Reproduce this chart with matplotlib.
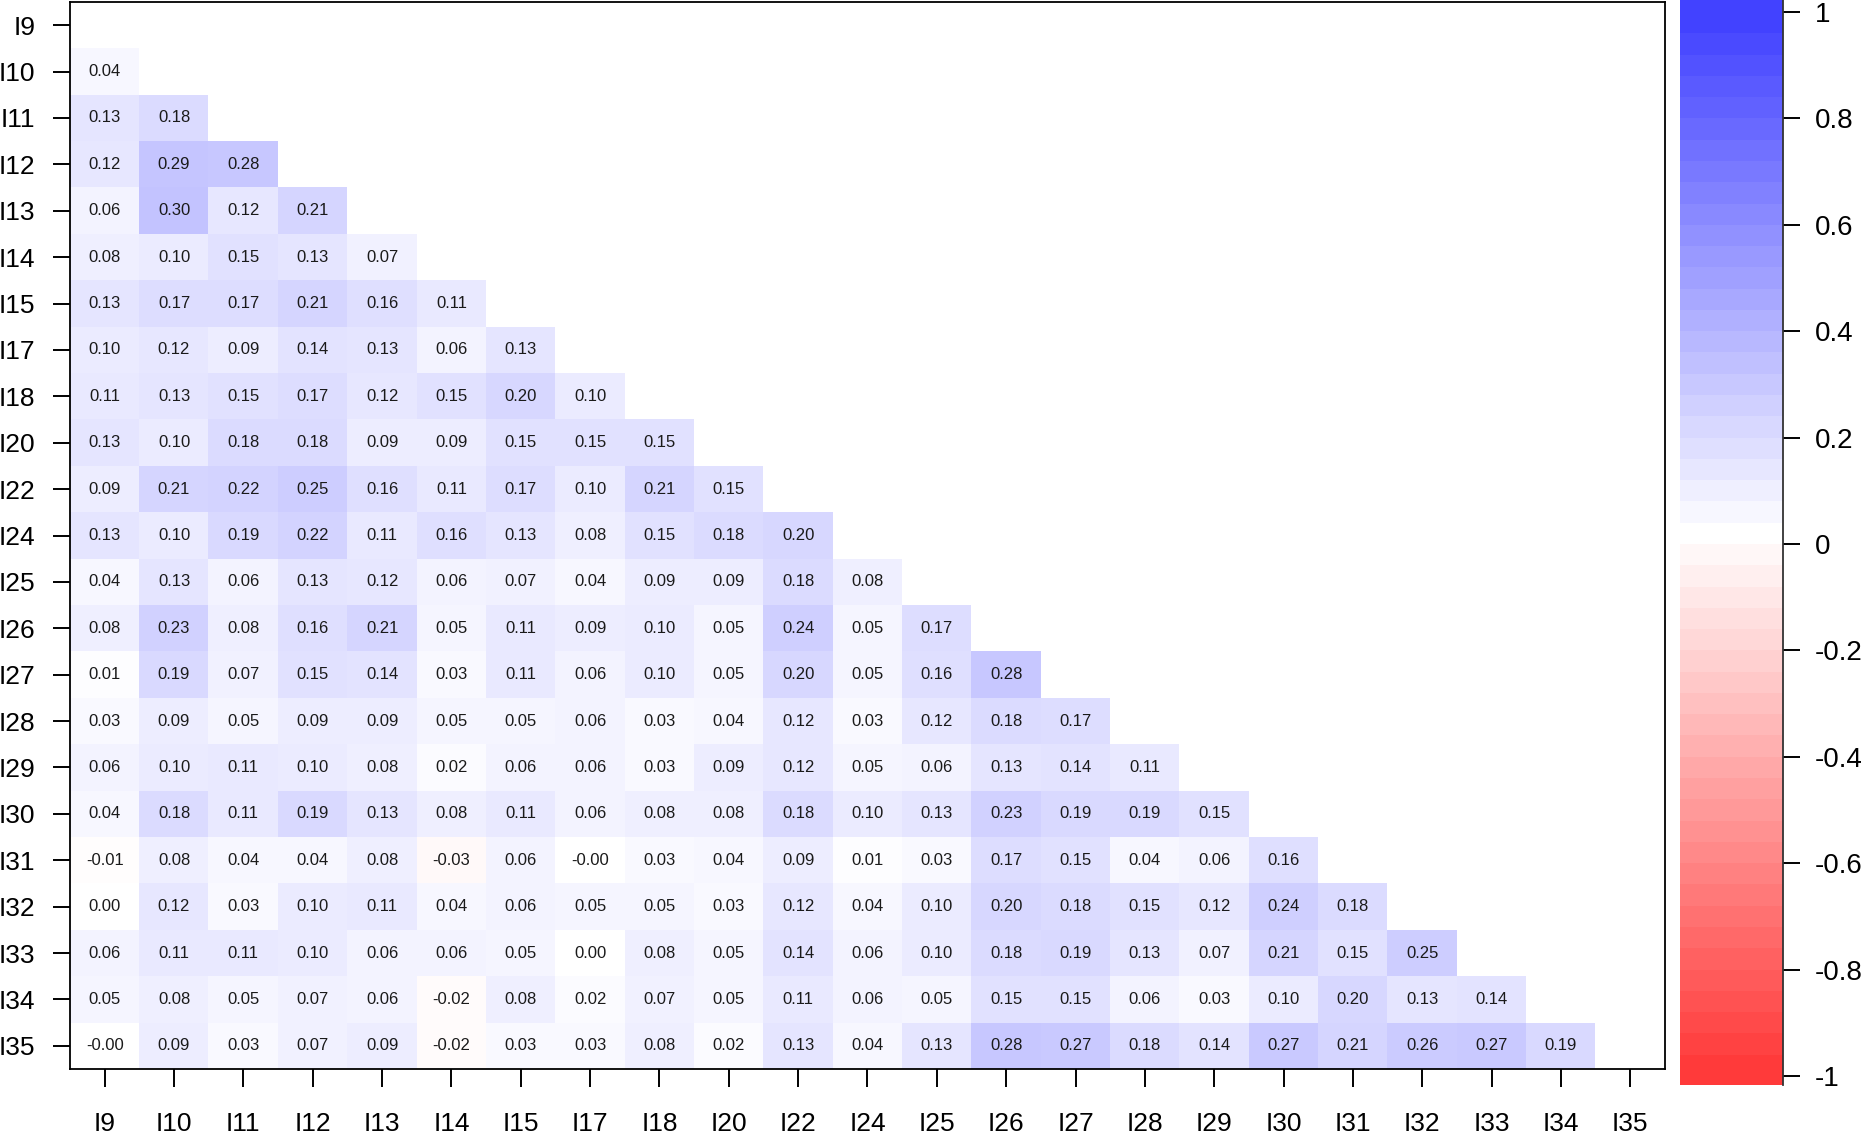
import numpy as np
import matplotlib
matplotlib.use("Agg")
import matplotlib.pyplot as plt

plt.rcParams['font.family'] = ['Liberation Sans', 'DejaVu Sans']

labels = ["I9", "I10", "I11", "I12", "I13", "I14", "I15", "I17", "I18", "I20", "I22",
          "I24", "I25", "I26", "I27", "I28", "I29", "I30", "I31", "I32", "I33", "I34", "I35"]

# lower-triangle rows (row label -> values against earlier columns)
r_I10 = [0.04]
r_I11 = [0.13, 0.18]
r_I12 = [0.12, 0.29, 0.28]
r_I13 = [0.06, 0.30, 0.12, 0.21]
r_I14 = [0.08, 0.10, 0.15, 0.13, 0.07]
r_I15 = [0.13, 0.17, 0.17, 0.21, 0.16, 0.11]
r_I17 = [0.10, 0.12, 0.09, 0.14, 0.13, 0.06, 0.13]
r_I18 = [0.11, 0.13, 0.15, 0.17, 0.12, 0.15, 0.20, 0.10]
r_I20 = [0.13, 0.10, 0.18, 0.18, 0.09, 0.09, 0.15, 0.15, 0.15]
r_I22 = [0.09, 0.21, 0.22, 0.25, 0.16, 0.11, 0.17, 0.10, 0.21, 0.15]
r_I24 = [0.13, 0.10, 0.19, 0.22, 0.11, 0.16, 0.13, 0.08, 0.15, 0.18, 0.20]
r_I25 = [0.04, 0.13, 0.06, 0.13, 0.12, 0.06, 0.07, 0.04, 0.09, 0.09, 0.18, 0.08]
r_I26 = [0.08, 0.23, 0.08, 0.16, 0.21, 0.05, 0.11, 0.09, 0.10, 0.05, 0.24, 0.05, 0.17]
r_I27 = [0.01, 0.19, 0.07, 0.15, 0.14, 0.03, 0.11, 0.06, 0.10, 0.05, 0.20, 0.05, 0.16, 0.28]
r_I28 = [0.03, 0.09, 0.05, 0.09, 0.09, 0.05, 0.05, 0.06, 0.03, 0.04, 0.12, 0.03, 0.12, 0.18, 0.17]
r_I29 = [0.06, 0.10, 0.11, 0.10, 0.08, 0.02, 0.06, 0.06, 0.03, 0.09, 0.12, 0.05, 0.06, 0.13, 0.14, 0.11]
r_I30 = [0.04, 0.18, 0.11, 0.19, 0.13, 0.08, 0.11, 0.06, 0.08, 0.08, 0.18, 0.10, 0.13, 0.23, 0.19, 0.19, 0.15]
r_I31 = [-0.01, 0.08, 0.04, 0.04, 0.08, -0.03, 0.06, -0.00, 0.03, 0.04, 0.09, 0.01, 0.03, 0.17, 0.15, 0.04, 0.06, 0.16]
r_I32 = [0.00, 0.12, 0.03, 0.10, 0.11, 0.04, 0.06, 0.05, 0.05, 0.03, 0.12, 0.04, 0.10, 0.20, 0.18, 0.15, 0.12, 0.24, 0.18]
r_I33 = [0.06, 0.11, 0.11, 0.10, 0.06, 0.06, 0.05, 0.00, 0.08, 0.05, 0.14, 0.06, 0.10, 0.18, 0.19, 0.13, 0.07, 0.21, 0.15, 0.25]
r_I34 = [0.05, 0.08, 0.05, 0.07, 0.06, -0.02, 0.08, 0.02, 0.07, 0.05, 0.11, 0.06, 0.05, 0.15, 0.15, 0.06, 0.03, 0.10, 0.20, 0.13, 0.14]
r_I35 = [-0.00, 0.09, 0.03, 0.07, 0.09, -0.02, 0.03, 0.03, 0.08, 0.02, 0.13, 0.04, 0.13, 0.28, 0.27, 0.18, 0.14, 0.27, 0.21, 0.26, 0.27, 0.19]

rows = [[], r_I10, r_I11, r_I12, r_I13, r_I14, r_I15, r_I17, r_I18, r_I20, r_I22, r_I24,
        r_I25, r_I26, r_I27, r_I28, r_I29, r_I30, r_I31, r_I32, r_I33, r_I34, r_I35]

cb_ticks = [1, 0.8, 0.6, 0.4, 0.2, 0, -0.2, -0.4, -0.6, -0.8, -1]
cb_ticklabels = ["1", "0.8", "0.6", "0.4", "0.2", "0", "-0.2", "-0.4", "-0.6", "-0.8", "-1"]

BLUE = np.array([58, 58, 255]) / 255.0
RED = np.array([255, 58, 58]) / 255.0
WHITE = np.array([1.0, 1.0, 1.0])


def ramp(v):
    v = float(np.clip(v, -1, 1))
    if v >= 0:
        return WHITE * (1 - v) + BLUE * v
    return WHITE * (1 + v) + RED * (-v)


n = len(labels)
img = np.ones((n, n, 3))
for i, r in enumerate(rows):
    for j, v in enumerate(r):
        img[i, j] = ramp(v)

fig = plt.figure(figsize=(18.62, 11.35), dpi=100)
W, H = 1862.0, 1135.0
ax = fig.add_axes([70 / W, 1 - 1069 / H, (1665 - 70) / W, (1069 - 2) / H])
ax.imshow(img, extent=(-0.5, n - 0.5, n - 0.5, -0.5), aspect='auto', interpolation='nearest')
for i, r in enumerate(rows):
    for j, v in enumerate(r):
        txt = "%.2f" % v
        if v == 0 and str(v).startswith('-'):
            txt = "-0.00"
        ax.text(j, i, txt, ha='center', va='center', fontsize=12, color='#1a1a1a')

ax.set_xlim(-0.5, n - 0.5)
ax.set_ylim(n - 0.5, -0.5)
ax.set_xticks(range(n))
ax.set_xticklabels(labels)
ax.set_yticks(range(n))
ax.set_yticklabels(labels)
ax.tick_params(axis='x', length=13, width=1.4, labelsize=19, pad=18)
ax.tick_params(axis='y', length=12, width=1.4, labelsize=19, pad=13)
for s in ax.spines.values():
    s.set_linewidth(1.3)

# colour legend
cax = fig.add_axes([1680 / W, 1 - 1085 / H, (1783 - 1680) / W, 1085 / H])
edges = np.linspace(-1, 1, 51)
ylo, yhi = -1.017, 1.0226
lows = edges[:-1].copy()
highs = edges[1:].copy()
lows[0] = ylo
highs[-1] = yhi
band_cols = [ramp(e) for e in edges[:-1]]
cax.bar(0.5, highs - lows, bottom=lows, width=1.0, color=band_cols, edgecolor='none', linewidth=0)
cax.set_xlim(0, 1)
cax.set_ylim(ylo, yhi)
cax.set_xticks([])
cax.yaxis.tick_right()
cax.set_yticks(cb_ticks)
cax.set_yticklabels(cb_ticklabels)
cax.tick_params(axis='y', length=12, width=1.4, labelsize=20, pad=11)
for k in ['left', 'top', 'bottom']:
    cax.spines[k].set_visible(False)
cax.spines['right'].set_linewidth(1.3)
cax.spines['right'].set_color('#333333')

fig.savefig("out.png", dpi=100)
